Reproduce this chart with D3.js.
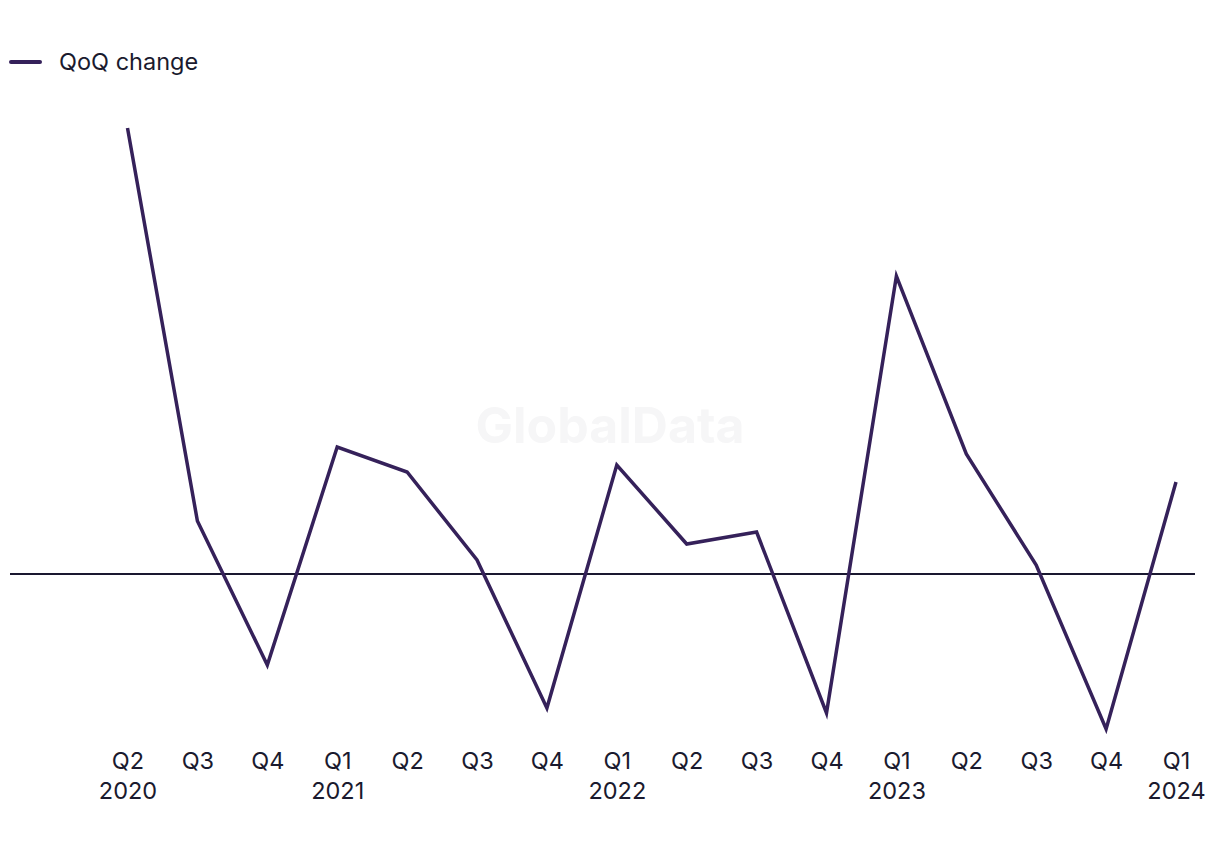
<!DOCTYPE html>
<html>
<head>
<meta charset="utf-8">
<script src="https://cdn.jsdelivr.net/npm/d3@7"></script>
<style>
  html, body { margin: 0; padding: 0; background: #ffffff; }
  svg { display: block; font-family: Inter, "Noto Sans", sans-serif; }
</style>
</head>
<body>
<svg id="chart" width="1220" height="850"></svg>
<script>
const quarters = ["Q2","Q3","Q4","Q1","Q2","Q3","Q4","Q1","Q2","Q3","Q4","Q1","Q2","Q3","Q4","Q1"];
const years    = ["2020","","","2021","","","","2022","","","","2023","","","","2024"];
const qoqChange = [44.6, 5.3, -9.1, 12.7, 10.2, 1.4, -13.4, 10.9, 3.0, 4.2, -13.9, 29.8, 12.0, 0.9, -15.5, 9.2];
const seriesName = "QoQ change";

const svg = d3.select("#chart");
const keys = quarters.map((q, i) => i);

const x = d3.scalePoint().domain(keys).range([127.5, 1176]);
const y = d3.scaleLinear().domain([-20, 50]).range([774, 74]);

const lineColor = "#35215a";
const textColor = "#1a1a2e";
const fontSize = 23.5;

// watermark
svg.append("text")
  .attr("x", 610).attr("y", 443)
  .attr("text-anchor", "middle")
  .attr("font-size", 50).attr("font-weight", 700)
  .attr("fill", "#f6f6f7")
  .text("GlobalData");

// zero line
svg.append("line")
  .attr("x1", 10).attr("x2", 1195)
  .attr("y1", y(0)).attr("y2", y(0))
  .attr("stroke", "#1a1830").attr("stroke-width", 2);

// series line
svg.append("path")
  .datum(qoqChange)
  .attr("fill", "none")
  .attr("stroke", lineColor)
  .attr("stroke-width", 3.5)
  .attr("stroke-linejoin", "miter")
  .attr("d", d3.line().x((d, i) => x(i)).y(d => y(d)));

// x axis labels
const xAxis = d3.axisBottom(x).tickSize(0).tickFormat(i => quarters[i]);
const gx = svg.append("g").attr("transform", "translate(0,742)").call(xAxis);
gx.select(".domain").remove();
gx.selectAll("text")
  .attr("font-size", fontSize)
  .attr("fill", textColor)
  .attr("font-family", "Inter, 'Noto Sans', sans-serif")
  .attr("dy", "0.71em")
  .attr("y", 10)
  .each(function(i) {
    if (years[i]) {
      d3.select(this.parentNode).append("text")
        .attr("y", 40)
        .attr("dy", "0.71em")
        .attr("text-anchor", "middle")
        .attr("font-size", fontSize)
        .attr("fill", textColor)
        .attr("font-family", "Inter, 'Noto Sans', sans-serif")
        .text(years[i]);
    }
  });

// legend
const lg = svg.append("g");
lg.append("line")
  .attr("x1", 11).attr("x2", 40).attr("y1", 62).attr("y2", 62)
  .attr("stroke", lineColor).attr("stroke-width", 4).attr("stroke-linecap", "round");
lg.append("text")
  .attr("x", 59).attr("y", 70)
  .attr("font-size", fontSize).attr("fill", textColor)
  .text(seriesName);
</script>
</body>
</html>
